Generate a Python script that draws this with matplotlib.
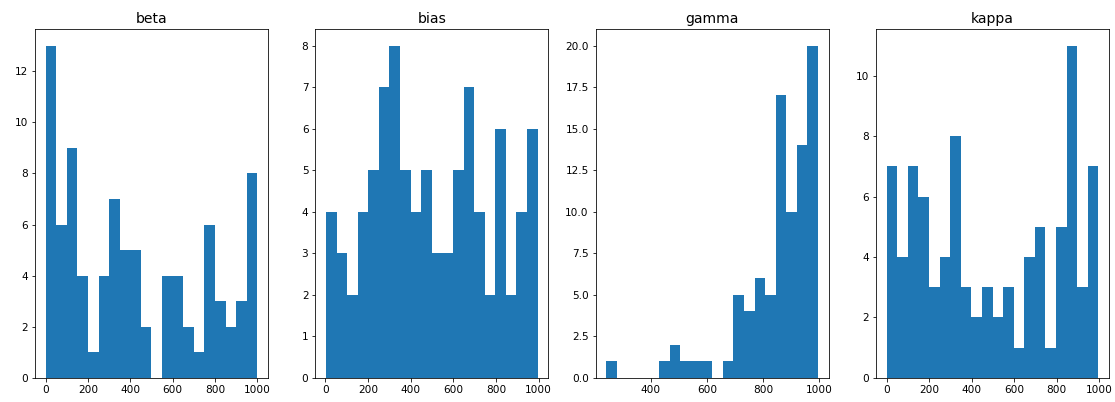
import numpy as np
import matplotlib
matplotlib.use('Agg')
import matplotlib.pyplot as plt

names = ['beta', 'bias', 'gamma', 'kappa']

# counts per bin (20 bins)
beta_counts = [13, 6, 9, 4, 1, 4, 7, 5, 5, 2, 0, 4, 4, 2, 1, 6, 3, 2, 3, 8]
bias_counts = [4, 3, 2, 4, 5, 7, 8, 5, 4, 5, 3, 3, 5, 7, 4, 2, 6, 2, 4, 6]
gamma_counts = [1, 0, 0, 0, 0, 1, 2, 1, 1, 1, 0, 1, 5, 4, 6, 5, 17, 10, 14, 20]
kappa_counts = [7, 4, 7, 6, 3, 4, 8, 3, 2, 3, 2, 3, 1, 4, 5, 1, 5, 11, 3, 7]

# data range (min, max) of each column
beta_range = (0, 1000)
bias_range = (3, 995)
gamma_range = (242, 995)
kappa_range = (0, 997)

all_counts = [beta_counts, bias_counts, gamma_counts, kappa_counts]
all_ranges = [beta_range, bias_range, gamma_range, kappa_range]

dpi = 72
fig, axes = plt.subplots(1, 4, figsize=(1115/dpi, 402/dpi), dpi=dpi)
plt.subplots_adjust(left=0.0314, right=0.9946, bottom=0.060, top=0.928, wspace=0.204)

for ax, name, counts, rng in zip(axes, names, all_counts, all_ranges):
    edges = np.linspace(rng[0], rng[1], len(counts) + 1)
    ax.hist(edges[:-1], bins=edges, weights=counts, color='#1f77b4')
    ax.set_title(name, fontsize=14)
    ax.tick_params(labelsize=10.5)

fig.savefig('out.png', dpi=dpi)
